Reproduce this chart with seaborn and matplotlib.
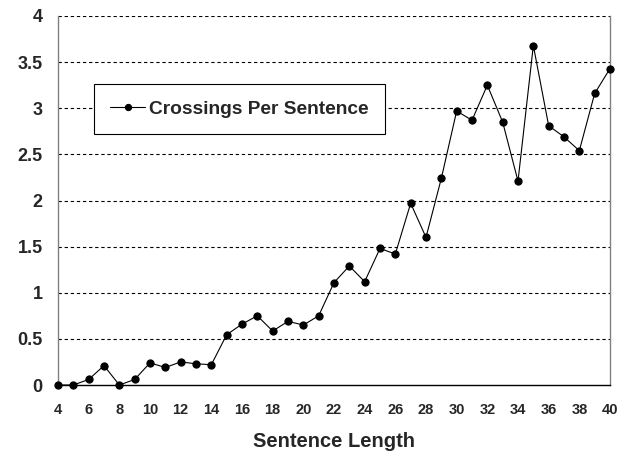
import matplotlib
matplotlib.use("Agg")
import matplotlib.pyplot as plt
import seaborn as sns
import pandas as pd

sentence_length = list(range(4, 41))
crossings = [0.00, 0.00, 0.06, 0.21, 0.00, 0.06, 0.24, 0.19, 0.25, 0.23,
             0.22, 0.545, 0.66, 0.75, 0.585, 0.69, 0.65, 0.75, 1.11, 1.29,
             1.12, 1.48, 1.42, 1.97, 1.60, 2.24, 2.97, 2.87, 3.25, 2.85,
             2.21, 3.68, 2.81, 2.69, 2.54, 3.16, 3.43]
series_name = "Crossings Per Sentence"
x_ticks = list(range(4, 41, 2))
y_ticks = [0, 0.5, 1, 1.5, 2, 2.5, 3, 3.5, 4]
y_labels = ["0", "0.5", "1", "1.5", "2", "2.5", "3", "3.5", "4"]

df = pd.DataFrame({"Sentence Length": sentence_length, "value": crossings,
                   "series": series_name})

sns.set_style("white")
plt.rcParams['font.family'] = ['Liberation Sans', 'DejaVu Sans']

fig = plt.figure(figsize=(6.21, 4.55), dpi=100)
ax = fig.add_axes([58/621, 1-385/455, (610-58)/621, (385-16)/455])

sns.lineplot(data=df, x="Sentence Length", y="value", hue="series",
             palette=["black"], marker="o", markersize=5.2, linewidth=0.8,
             markeredgecolor="black", ax=ax, clip_on=False, zorder=3)

ax.set_xlim(4, 40)
ax.set_ylim(0, 4)
ax.set_xticks(x_ticks)
ax.set_xticklabels([str(t) for t in x_ticks], fontsize=10.5, fontweight="bold")
ax.set_yticks(y_ticks)
ax.set_yticklabels(y_labels, fontsize=13, fontweight="bold")
ax.tick_params(axis="x", length=0, pad=13)
ax.tick_params(axis="y", length=6, width=1, color="#808080", direction="out", pad=5)

for v in y_ticks[1:]:
    ax.axhline(v, color="black", linestyle=(0, (3, 2.5)), linewidth=0.8, zorder=1)

ax.spines["top"].set_visible(False)
ax.spines["left"].set_color("#808080")
ax.spines["right"].set_color("#808080")
ax.spines["bottom"].set_color("black")
for s in ["left", "right", "bottom"]:
    ax.spines[s].set_linewidth(1.0)

ax.set_xlabel("Sentence Length", fontsize=14.5, fontweight="bold", labelpad=11)
ax.set_ylabel("")

leg = ax.legend(loc="upper left", bbox_to_anchor=((94-58)/552, (385-84)/369),
                frameon=True, fancybox=False, framealpha=1, edgecolor="black",
                prop={"weight": "bold", "size": 13.8}, handlelength=1.8,
                handletextpad=0.2, borderpad=0.85, borderaxespad=0)
leg.get_frame().set_linewidth(0.8)
for h in leg.get_lines():
    h.set_markersize(4.5)

fig.savefig("out.png", dpi=100)
